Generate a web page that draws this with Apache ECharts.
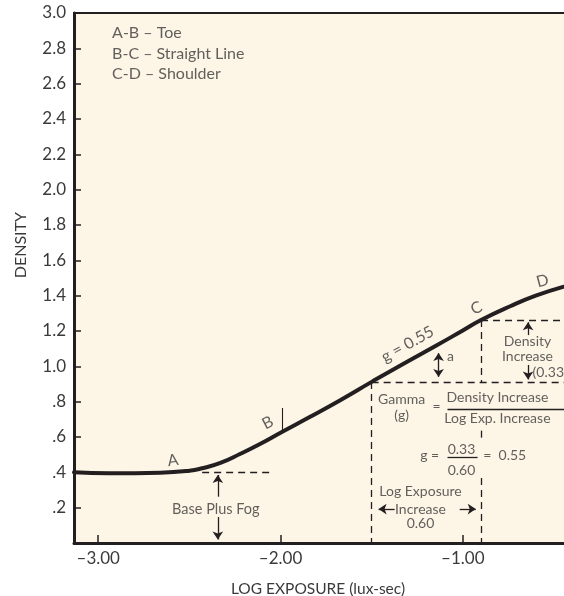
<!DOCTYPE html>
<html>
<head>
<meta charset="utf-8">
<script src="https://cdn.jsdelivr.net/npm/echarts@6/dist/echarts.min.js"></script>
<style>
  html, body { margin: 0; padding: 0; background: #ffffff; }
  #chart { width: 564px; height: 596px; }
</style>
</head>
<body>
<div id="chart"></div>
<script>
// ---- Characteristic (H&D) curve data ----
const logExposure = [-3.133, -2.94, -2.66, -2.50, -2.43, -2.33, -2.22, -2.11, -1.99, -1.84, -1.67, -1.50, -1.33, -1.15, -1.00, -0.90, -0.74, -0.60, -0.45];
const density     = [0.400, 0.395, 0.398, 0.409, 0.423, 0.453, 0.505, 0.562, 0.630, 0.713, 0.810, 0.912, 1.012, 1.115, 1.203, 1.262, 1.340, 1.400, 1.450];

// tick values / labels
const xTickValues = [-3, -2, -1];
const xTickLabels = ['–3.00', '–2.00', '–1.00'];

// key values of the construction
const baseFog = 0.40;             // base plus fog density
const toeEnd = -2.43;             // where the curve leaves the toe
const gammaLogE = [-1.5, -0.9];   // log exposure interval (0.60)
const gammaD = [0.912, 1.262];    // density interval (0.33)
const pointB = [-1.99, 0.630];

const INK = '#231f20';
const TXT = '#3a3a3a';
const FONT = 'Lato';

const chart = echarts.init(document.getElementById('chart'), null, { renderer: 'canvas' });

const dash = { type: [7, 5], width: 1.3, color: INK };
const solid = { type: 'solid', width: 1.3, color: INK };
function seg(a, b, style, s0, s1) {
  return [
    { coord: a, symbol: s0 || 'none', symbolSize: 8, lineStyle: style },
    { coord: b, symbol: s1 || 'none', symbolSize: 8 }
  ];
}

const xRight = -0.39;
const lines = [
  // base plus fog
  seg([toeEnd, baseFog], [-2.05, baseFog], dash),
  seg([-2.344, 0.262], [-2.344, 0.385], solid, 'none', 'arrow'),
  seg([-2.344, 0.147], [-2.344, 0.02], solid, 'none', 'arrow'),
  // gamma construction
  seg([gammaLogE[0], gammaD[0]], [gammaLogE[0], 0], dash),
  seg([gammaLogE[0], gammaD[0]], [xRight, gammaD[0]], dash),
  seg([gammaLogE[1], gammaD[1]], [gammaLogE[1], gammaD[0]], dash),
  seg([gammaLogE[1], 0.636], [gammaLogE[1], 0.59], dash),
  seg([gammaLogE[1], 0.368], [gammaLogE[1], 0], dash),
  seg([gammaLogE[1], gammaD[1]], [xRight, gammaD[1]], dash),
  // "a" double arrow
  seg([-1.133, 1.075], [-1.133, 0.940], solid, 'arrow', 'arrow'),
  // density increase arrows
  seg([-0.642, 1.177], [-0.642, 1.250], solid, 'none', 'arrow'),
  seg([-0.642, 1.008], [-0.642, 0.926], solid, 'none', 'arrow'),
  // fraction bars
  seg([-1.084, 0.758], [xRight, 0.758], solid),
  seg([-1.084, 0.487], [-0.919, 0.487], solid),
  // log exposure increase arrows
  seg([-1.374, 0.192], [-1.462, 0.192], solid, 'none', 'arrow'),
  seg([-1.017, 0.192], [-0.929, 0.192], solid, 'none', 'arrow'),
  // B marker
  seg([pointB[0], pointB[1]], [pointB[0], 0.764], { type: 'solid', width: 1.1, color: INK })
];

function t(text, x, y, opts) {
  return { value: [x, y], label: Object.assign({ formatter: text }, opts || {}) };
}
const notes = [
  t('A-B – Toe', -2.924, 2.887, { align: 'left', fontSize: 16 }),
  t('B-C – Straight Line', -2.924, 2.771, { align: 'left', fontSize: 16 }),
  t('C-D – Shoulder', -2.924, 2.655, { align: 'left', fontSize: 16 }),
  t('A', -2.590, 0.468, { rotate: 8, fontSize: 16 }),
  t('B', -2.070, 0.681, { rotate: 27, fontSize: 16 }),
  t('C', -0.925, 1.330, { rotate: 25, fontSize: 16 }),
  t('D', -0.563, 1.483, { rotate: 15, fontSize: 16 }),
  t('g = 0.55', -1.303, 1.125, { rotate: 29, fontSize: 16 }),
  t('a', -1.067, 1.053),
  t('Density', -0.645, 1.138),
  t('Increase', -0.645, 1.053),
  t('(0.33)', -0.617, 0.968, { align: 'left' }),
  t('Gamma', -1.336, 0.815),
  t('(g)', -1.336, 0.719),
  t('=', -1.144, 0.770),
  t('Density Increase', -0.810, 0.821),
  t('Log Exp. Increase', -0.810, 0.702),
  t('g =', -1.182, 0.498),
  t('0.33', -1.007, 0.532),
  t('0.60', -1.007, 0.413),
  t('=', -0.865, 0.498),
  t('0.55', -0.728, 0.498),
  t('Log Exposure', -1.232, 0.289),
  t('Increase', -1.232, 0.192),
  t('0.60', -1.232, 0.113),
  t('Base Plus Fog', -2.355, 0.192, { fontSize: 14.5 })
];

const option = {
  animation: false,
  backgroundColor: '#ffffff',
  textStyle: { fontFamily: FONT },
  grid: {
    left: 74, top: 13, right: -10, bottom: 53,
    show: true, backgroundColor: '#fdf5e6', borderColor: INK, borderWidth: 2,
    outerBoundsMode: 'none', containLabel: false
  },
  xAxis: {
    type: 'value', min: -3.133, max: xRight,
    axisLine: { show: true, onZero: false, lineStyle: { color: INK, width: 3 } },
    axisTick: { show: true, inside: true, length: 8, customValues: xTickValues, lineStyle: { color: INK, width: 1.5 } },
    axisLabel: {
      customValues: xTickValues, margin: 7, color: TXT, fontSize: 17, fontFamily: FONT,
      formatter: function (v) { return xTickLabels[xTickValues.indexOf(Math.round(v))] || ''; }
    },
    splitLine: { show: false },
    name: 'LOG EXPOSURE (lux-sec)', nameLocation: 'middle', nameGap: 38,
    nameTextStyle: { color: TXT, fontSize: 15.5, fontFamily: FONT, padding: [0, 12, 0, 0] }
  },
  yAxis: {
    type: 'value', min: 0, max: 3, interval: 0.2,
    axisLine: { show: true, onZero: false, lineStyle: { color: INK, width: 3 } },
    axisTick: { show: true, inside: true, length: 7, lineStyle: { color: INK, width: 1.5 } },
    axisLabel: {
      margin: 8, color: TXT, fontSize: 17, fontFamily: FONT,
      formatter: function (v) {
        if (Math.abs(v) < 1e-6) return '';
        const s = v.toFixed(1);
        return v < 1 ? s.replace(/^0/, '') : s;
      }
    },
    splitLine: { show: false }
  },
  graphic: [{
    type: 'text', left: 13, top: 212, rotation: Math.PI / 2,
    style: { text: 'DENSITY', fill: TXT, font: '16px ' + FONT }
  }],
  series: [
    {
      type: 'line', name: 'curve', smooth: 0.5, symbol: 'none',
      data: logExposure.map((x, i) => [x, density[i]]),
      lineStyle: { color: INK, width: 4, cap: 'round', join: 'round' },
      z: 5
    },
    {
      type: 'scatter', name: 'notes', symbolSize: 0, silent: true,
      data: notes,
      label: { show: true, position: 'inside', color: TXT, fontSize: 14, fontFamily: FONT },
      markLine: {
        silent: true, animation: false, label: { show: false },
        emphasis: { disabled: true },
        data: lines
      },
      z: 4
    }
  ]
};
chart.setOption(option);
</script>
</body>
</html>
